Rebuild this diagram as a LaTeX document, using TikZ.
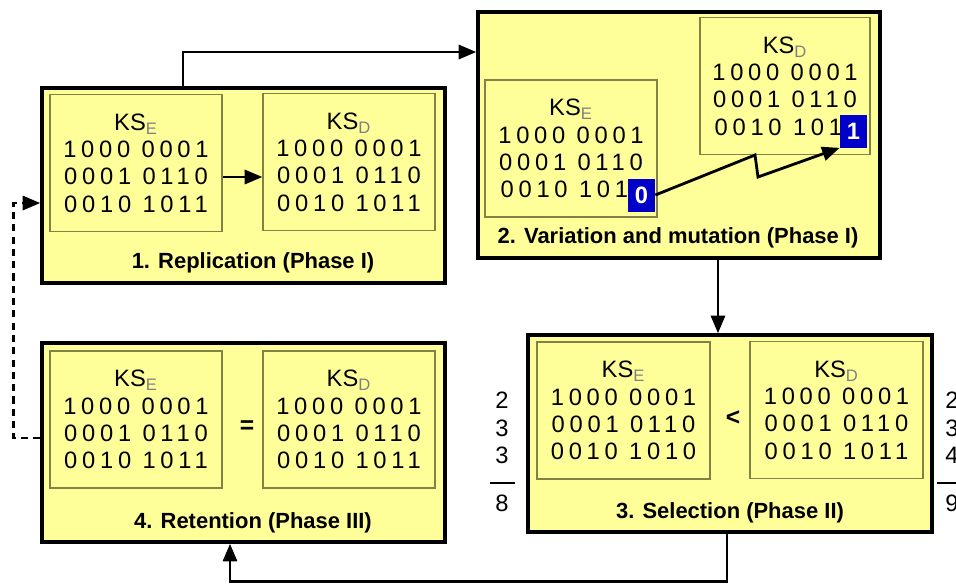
\documentclass[tikz,border=0pt]{standalone}
\usepackage{fontspec}
\setmainfont{Liberation Sans}
\newfontfamily\bitfont[LetterSpace=20]{Liberation Sans}
\usetikzlibrary{arrows.meta}
\definecolor{stagefill}{RGB}{255,255,153}
\definecolor{keyline}{RGB}{130,130,70}
\definecolor{mutblue}{RGB}{0,0,200}
\newcommand{\ks}[1]{KS\textsubscript{\textcolor{gray}{#1}}}
\newcommand{\bits}[1]{{\bitfont #1}}
\begin{document}
\begin{tikzpicture}[x=0.02cm, y=-0.02cm,
  stage/.style={rectangle, draw, line width=2pt, fill=stagefill, inner sep=0pt},
  keybox/.style={rectangle, draw=keyline, line width=0.8pt, fill=stagefill, minimum width=3.44cm, minimum height=2.74cm, align=center, inner sep=0pt, font=\fontsize{13.5}{15.5}\selectfont},
  stagetitle/.style={font=\fontsize{12.5}{14}\selectfont\bfseries},
  mut/.style={rectangle, fill=mutblue, text=white, minimum width=0.54cm, minimum height=0.66cm, inner sep=0pt, font=\fontsize{13.5}{15}\selectfont\bfseries},
  tally/.style={align=center, inner sep=0pt, font=\fontsize{13.5}{15.6}\selectfont},
  arrow/.style={->, >={Triangle[length=10pt, width=8pt]}, line width=1.6pt},
  sumline/.style={line width=1.6pt}
]
  \useasboundingbox (0,0) rectangle (956,586);
  \fill[white] (0,0) rectangle (956,586);

  % Stage 1: replication (top left)
  \node[stage, minimum width=8.06cm, minimum height=3.9cm] (repl) at (243.5,185.5) {};
  \node[keybox] (replE) at (136,163) {\ks{E}\\\bits{1000 0001}\\\bits{0001 0110}\\\bits{0010 1011}};
  \node[keybox] (replD) at (349,162) {\ks{D}\\\bits{1000 0001}\\\bits{0001 0110}\\\bits{0010 1011}};
  \node[stagetitle] (replT) at (253,263) {1. Replication (Phase I)};

  % Stage 2: variation and mutation (top right)
  \node[stage, minimum width=8.04cm, minimum height=4.92cm] (vari) at (679,135) {};
  \node[keybox] (variE) at (571,148.5) {\ks{E}\\\bits{1000 0001}\\\bits{0001 0110}\\\bits{0010 101\phantom{0}}};
  \node[keybox, minimum width=3.4cm] (variD) at (785,86) {\ks{D}\\\bits{1000 0001}\\\bits{0001 0110}\\\bits{0010 101\phantom{1}}};
  \node[mut] (mut0) at (641.5,195) {0};
  \node[mut] (mut1) at (853.5,131) {1};
  \node[stagetitle] (variT) at (678,238) {2. Variation and mutation (Phase I)};

  % Stage 3: selection (bottom right)
  \node[stage, minimum width=8.08cm, minimum height=3.94cm] (sel) at (730,433.5) {};
  \node[keybox, minimum width=3.46cm] (selE) at (623.5,410.5) {\ks{E}\\\bits{1000 0001}\\\bits{0001 0110}\\\bits{0010 1010}};
  \node[keybox, minimum width=3.46cm] (selD) at (836.5,410) {\ks{D}\\\bits{1000 0001}\\\bits{0001 0110}\\\bits{0010 1011}};
  \node[font=\fontsize{14}{14}\selectfont\bfseries] (less) at (733,418) {<};
  \node[stagetitle] (selT) at (730,513) {3. Selection (Phase II)};

  % Ones counted in each key
  \node[tally] (cntE) at (502,428) {2\\3\\3};
  \node[tally] (totE) at (502,503) {8};
  \draw[sumline] (490,483) -- (515,483);
  \node[tally] (cntD) at (952,428) {2\\3\\4};
  \node[tally] (totD) at (952,503) {9};
  \draw[sumline] (937,483) -- (967,483);

  % Stage 4: retention (bottom left)
  \node[stage, minimum width=8.06cm, minimum height=3.98cm] (ret) at (243.5,442.5) {};
  \node[keybox] (retE) at (136,419.5) {\ks{E}\\\bits{1000 0001}\\\bits{0001 0110}\\\bits{0010 1011}};
  \node[keybox] (retD) at (349,419.5) {\ks{D}\\\bits{1000 0001}\\\bits{0001 0110}\\\bits{0010 1011}};
  \node[font=\fontsize{14}{14}\selectfont\bfseries] (equal) at (247,427) {=};
  \node[stagetitle] (retT) at (253,523) {4. Retention (Phase III)};

  % Arrows inside the stages
  \draw[arrow] ([yshift=-0.28cm]replE.east) -- ([yshift=-0.28cm]replE.east -| replD.west);
  \coordinate (zigA) at (755,155);
  \coordinate (zigB) at (758,177);
  \draw[arrow] (mut0.east) -- (zigA) -- (zigB) -- (mut1.south west);

  % Arrows between the stages
  \draw[arrow] ([xshift=-1.21cm]repl.north) |- ([yshift=1.66cm]vari.west);
  \draw[arrow] ([xshift=0.78cm]vari.south) -- ([xshift=0.78cm]vari.south |- sel.north);
  \draw[arrow] ([xshift=-0.06cm]sel.south) -- ++(0,-0.96cm) -| ([xshift=-0.27cm]ret.south);
  \draw[arrow, dash pattern=on 4pt off 3pt] ([yshift=0.09cm]ret.west) -- ++(-0.54cm,0) |- ([yshift=-0.35cm]repl.west);
\end{tikzpicture}
\end{document}
